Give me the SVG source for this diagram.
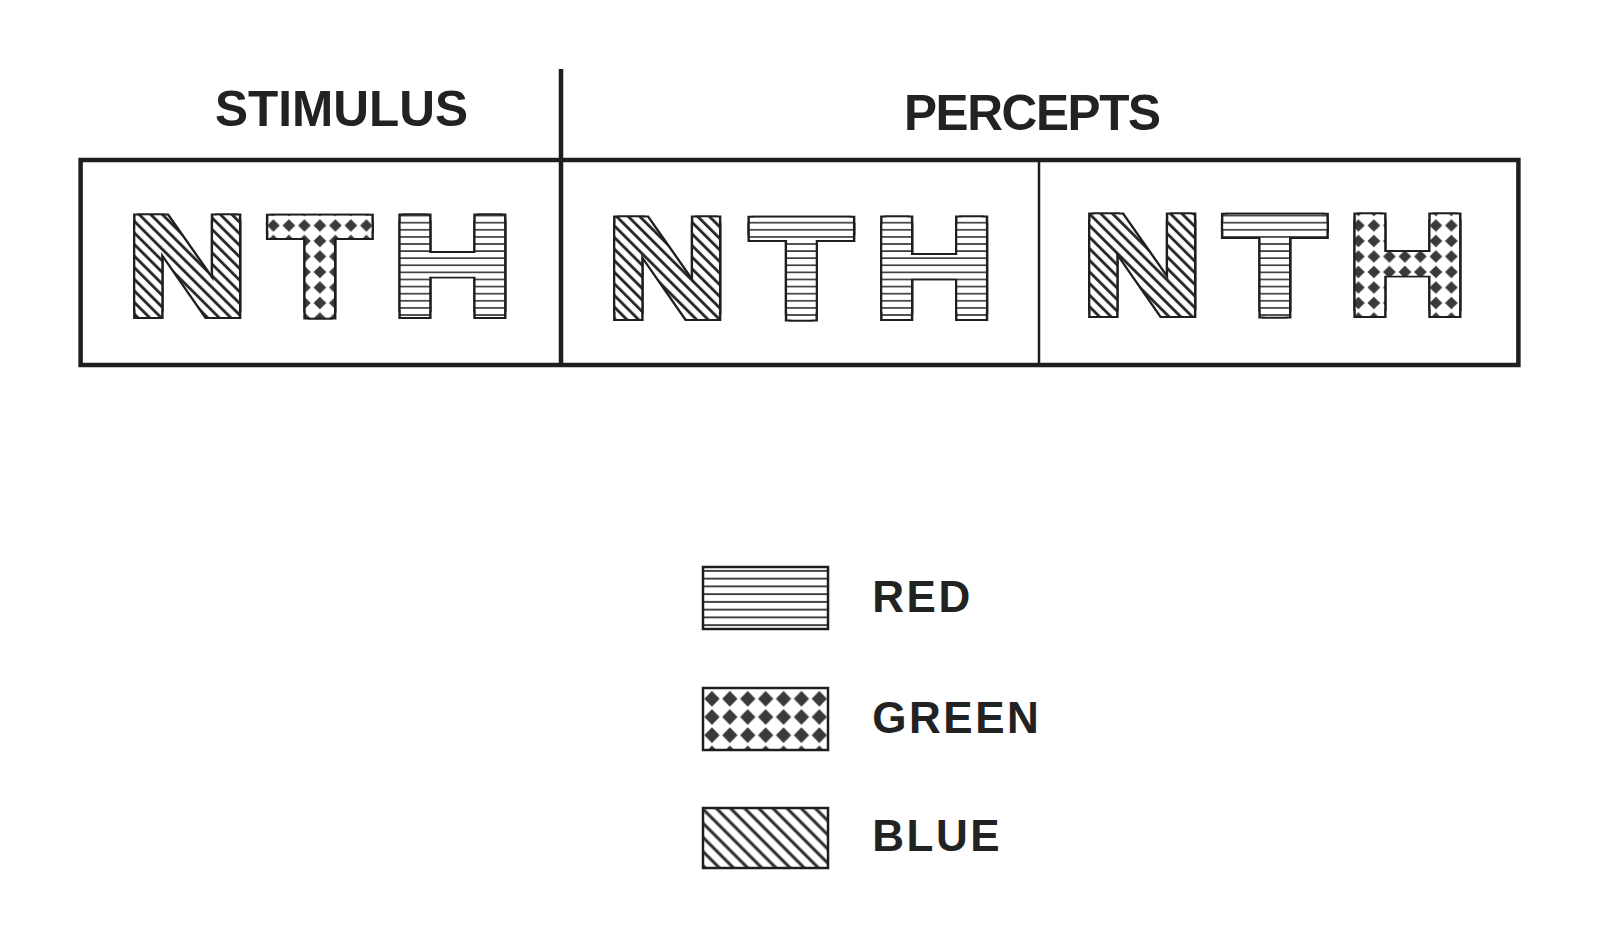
<svg xmlns="http://www.w3.org/2000/svg" width="1600" height="939" viewBox="0 0 1600 939">
<defs>
<style>
.head{font-family:"Liberation Sans",Arial,sans-serif;font-weight:bold;font-size:49.5px;fill:#222}
.lab{font-family:"Liberation Sans",Arial,sans-serif;font-weight:bold;font-size:44px;fill:#222;letter-spacing:2.5px}
.big{font-family:"Liberation Sans",Arial,sans-serif;font-weight:bold;font-size:136.9px;text-anchor:middle;fill:none;stroke:#1e1e1e;stroke-width:4}
.fr{stroke:#1e1e1e;fill:none}
.lg{stroke:#1e1e1e;stroke-width:2.5}
</style>
<pattern id="redL" patternUnits="userSpaceOnUse" x="0" y="212" width="20" height="7.1">
<rect width="20" height="7.1" fill="#fff"/><rect y="2.8" width="20" height="1.6" fill="#333"/>
</pattern>
<pattern id="blueL" patternUnits="userSpaceOnUse" width="20" height="8.2" patternTransform="rotate(45)">
<rect width="20" height="8.2" fill="#fff"/><rect y="2.6" width="20" height="2.9" fill="#2a2a2a"/>
</pattern>
<pattern id="greenL" patternUnits="userSpaceOnUse" x="312.15" y="217.75" width="15.5" height="15.5">
<rect width="15.5" height="15.5" fill="#fff"/><path d="M7.75 1.4 L14.1 7.75 L7.75 14.1 L1.4 7.75Z" fill="#3a3a3a"/>
</pattern>
<pattern id="redP" patternUnits="userSpaceOnUse" x="703" y="567" width="20" height="7.75">
<rect width="20" height="7.75" fill="#fff"/><rect y="3" width="20" height="1.8" fill="#333"/>
</pattern>
<pattern id="blueP" patternUnits="userSpaceOnUse" width="20" height="10" patternTransform="rotate(45)">
<rect width="20" height="10" fill="#fff"/><rect y="3.5" width="20" height="3" fill="#2a2a2a"/>
</pattern>
<pattern id="greenP" patternUnits="userSpaceOnUse" x="703" y="689.7" width="17.9" height="18.2">
<rect width="17.9" height="18.2" fill="#fff"/><path d="M8.95 1.3 L16.6 9.1 L8.95 16.9 L1.3 9.1Z" fill="#3a3a3a"/>
</pattern>
<clipPath id="c-sN"><use href="#sN"/><use href="#sN" x="4"/><use href="#sN" y="-7"/><use href="#sN" x="4" y="-7"/></clipPath>
<clipPath id="c-sT"><use href="#sT"/><use href="#sT" x="4"/><use href="#sT" y="-7"/><use href="#sT" x="4" y="-7"/></clipPath>
<clipPath id="c-sH"><use href="#sH"/><use href="#sH" x="4"/><use href="#sH" y="-7"/><use href="#sH" x="4" y="-7"/></clipPath>
<clipPath id="c-aN"><use href="#aN"/><use href="#aN" x="4"/><use href="#aN" y="-7"/><use href="#aN" x="4" y="-7"/></clipPath>
<clipPath id="c-aT"><use href="#aT"/><use href="#aT" x="4"/><use href="#aT" y="-7"/><use href="#aT" x="4" y="-7"/></clipPath>
<clipPath id="c-aH"><use href="#aH"/><use href="#aH" x="4"/><use href="#aH" y="-7"/><use href="#aH" x="4" y="-7"/></clipPath>
<clipPath id="c-bN"><use href="#bN"/><use href="#bN" x="4"/><use href="#bN" y="-7"/><use href="#bN" x="4" y="-7"/></clipPath>
<clipPath id="c-bT"><use href="#bT"/><use href="#bT" x="4"/><use href="#bT" y="-7"/><use href="#bT" x="4" y="-7"/></clipPath>
<clipPath id="c-bH"><use href="#bH"/><use href="#bH" x="4"/><use href="#bH" y="-7"/><use href="#bH" x="4" y="-7"/></clipPath>
</defs>
<rect width="1600" height="939" fill="#fff"/>

<g id="headings">
<text id="stimulus-title" class="head" x="341.5" y="125.5" text-anchor="middle">STIMULUS</text>
<text id="percepts-title" class="head" x="1032.5" y="129.6" text-anchor="middle" textLength="257">PERCEPTS</text>
</g>

<g id="frame">
<rect class="fr" x="80.6" y="160" width="1437.8" height="205" stroke-width="4.5"/>
<line class="fr" x1="561" y1="69" x2="561" y2="365" stroke-width="4.5"/>
<line class="fr" x1="1039" y1="160" x2="1039" y2="365" stroke-width="2.5"/>
</g>

<g id="stimulus">
<g id="stimulus-N">
<text id="sN" class="big" transform="translate(185.25 317.3) scale(1.235 1)">N</text>
<use href="#sN" x="4"/><use href="#sN" y="-7"/><use href="#sN" x="4" y="-7"/>
<rect x="125" y="205" width="125" height="120" fill="url(#blueL)" clip-path="url(#c-sN)"/>
</g>
<g id="stimulus-T">
<text id="sT" class="big" transform="translate(317.9 317.3) scale(1.229 1)">T</text>
<use href="#sT" x="4"/><use href="#sT" y="-7"/><use href="#sT" x="4" y="-7"/>
<rect x="258" y="205" width="125" height="120" fill="url(#greenL)" clip-path="url(#c-sT)"/>
</g>
<g id="stimulus-H">
<text id="sH" class="big" transform="translate(450.5 317.3) scale(1.233 1)">H</text>
<use href="#sH" x="4"/><use href="#sH" y="-7"/><use href="#sH" x="4" y="-7"/>
<rect x="390" y="205" width="125" height="120" fill="url(#redL)" clip-path="url(#c-sH)"/>
</g>
</g>

<g id="percept-1">
<g id="percept1-N">
<text id="aN" class="big" transform="translate(665.3 319.4) scale(1.235 1)">N</text>
<use href="#aN" x="4"/><use href="#aN" y="-7"/><use href="#aN" x="4" y="-7"/>
<rect x="605" y="205" width="125" height="122" fill="url(#blueL)" clip-path="url(#c-aN)"/>
</g>
<g id="percept1-T">
<text id="aT" class="big" transform="translate(799.5 319.4) scale(1.229 1)">T</text>
<use href="#aT" x="4"/><use href="#aT" y="-7"/><use href="#aT" x="4" y="-7"/>
<rect x="739" y="205" width="125" height="122" fill="url(#redL)" clip-path="url(#c-aT)"/>
</g>
<g id="percept1-H">
<text id="aH" class="big" transform="translate(932.2 319.4) scale(1.233 1)">H</text>
<use href="#aH" x="4"/><use href="#aH" y="-7"/><use href="#aH" x="4" y="-7"/>
<rect x="872" y="205" width="125" height="122" fill="url(#redL)" clip-path="url(#c-aH)"/>
</g>
</g>

<g id="percept-2">
<g id="percept2-N">
<text id="bN" class="big" transform="translate(1140.4 316.3) scale(1.235 1)">N</text>
<use href="#bN" x="4"/><use href="#bN" y="-7"/><use href="#bN" x="4" y="-7"/>
<rect x="1080" y="203" width="125" height="120" fill="url(#blueL)" clip-path="url(#c-bN)"/>
</g>
<g id="percept2-T">
<text id="bT" class="big" transform="translate(1273 316.3) scale(1.229 1)">T</text>
<use href="#bT" x="4"/><use href="#bT" y="-7"/><use href="#bT" x="4" y="-7"/>
<rect x="1213" y="203" width="125" height="120" fill="url(#redL)" clip-path="url(#c-bT)"/>
</g>
<g id="percept2-H">
<text id="bH" class="big" transform="translate(1405.5 316.3) scale(1.233 1)">H</text>
<use href="#bH" x="4"/><use href="#bH" y="-7"/><use href="#bH" x="4" y="-7"/>
<rect x="1345" y="203" width="125" height="120" fill="url(#greenL)" clip-path="url(#c-bH)"/>
</g>
</g>

<g id="legend-red">
<rect class="lg" x="703" y="567" width="125" height="62" fill="url(#redP)"/>
<text class="lab" x="872.3" y="612.2">RED</text>
</g>
<g id="legend-green">
<rect class="lg" x="703" y="688" width="125" height="62" fill="url(#greenP)"/>
<text class="lab" x="872.3" y="732.6">GREEN</text>
</g>
<g id="legend-blue">
<rect class="lg" x="703" y="808" width="125" height="60" fill="url(#blueP)"/>
<text class="lab" x="872.3" y="851">BLUE</text>
</g>
</svg>
